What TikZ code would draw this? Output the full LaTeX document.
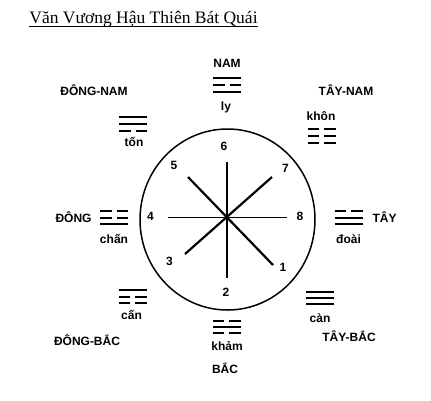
\documentclass[tikz,border=0pt]{standalone}
\usepackage{fontspec}
\setmainfont{Liberation Serif}
\newfontfamily\labfont{Liberation Sans}
\begin{document}
\begin{tikzpicture}[x=1pt,y=-1pt,
  lab/.style={font=\labfont\bfseries\fontsize{12}{14}\selectfont, anchor=base, inner sep=0pt},
  num/.style={font=\labfont\bfseries\fontsize{12}{14}\selectfont, anchor=base, inner sep=0pt},
  tri/.style={line width=2pt},
  axis/.style={line width=1.7pt},
  diag/.style={line width=2.2pt},
  yang/.pic={\draw[tri] (-14,0)--(14,0);},
  yin/.pic={\draw[tri] (-14,0)--(-2.5,0) (2.5,0)--(14,0);}]
\useasboundingbox (0,0) rectangle (431,400);
\fill[white] (0,0) rectangle (431,400);
% title
\node[font=\fontsize{17.5}{20}\selectfont, anchor=base, inner sep=0pt] (title) at (143.5,23.5) {Văn Vương Hậu Thiên Bát Quái};
\draw[line width=0.8pt] (title.base west) ++(0,2.5) coordinate (ul1) (title.base east) ++(0,2.5) coordinate (ul2);
\draw[line width=0.8pt] (ul1) -- (ul2);
% circle
\draw[line width=1.5pt] (227.5,219.5) ellipse [x radius=87.5, y radius=90.5];
% spokes
\coordinate (O) at (227,217.5);
\coordinate (p6) at (227,162);
\coordinate (p2) at (227,278);
\coordinate (p4) at (168,217.5);
\coordinate (p8) at (287,217.5);
\coordinate (p5) at (188,177);
\coordinate (p1) at (273,265);
\coordinate (p7) at (272,177);
\coordinate (p3) at (185,254);
\draw[axis] (p6) -- (p2);
\draw[axis] (p4) -- (p8);
\draw[diag] (p5) -- (p1);
\draw[diag] (p7) -- (p3);
% numbers
\node[num] (n6) at (224,150) {6};
\node[num] (n5) at (174,169) {5};
\node[num] (n7) at (285.5,172.5) {7};
\node[num] (n4) at (150.5,220) {4};
\node[num] (n8) at (300,220) {8};
\node[num] (n3) at (169.5,265) {3};
\node[num] (n1) at (283,271.5) {1};
\node[num] (n2) at (226,296.5) {2};
% directions
\node[lab] (nam) at (227,67) {NAM};
\node[lab] (dn) at (94,95) {ĐÔNG-NAM};
\node[lab] (tn) at (346,95) {TÂY-NAM};
\node[lab] (dong) at (73.5,222) {ĐÔNG};
\node[lab] (tay) at (384.5,222) {TÂY};
\node[lab] (db) at (87,345) {ĐÔNG-BẮC};
\node[lab] (tb) at (349,341.5) {TÂY-BẮC};
\node[lab] (bac) at (225,373) {BẮC};
% trigram names
\node[lab] (ly) at (226,110) {ly};
\node[lab] (khon) at (321,120.5) {khôn};
\node[lab] (ton) at (134,146.5) {tốn};
\node[lab] (chan) at (114,243) {chấn};
\node[lab] (doai) at (348.5,243) {đoài};
\node[lab] (can) at (131.5,319) {cấn};
\node[lab] (cann) at (320,322.5) {càn};
\node[lab] (kham) at (227,350.5) {khảm};
% trigrams
% Ly
\pic at (227,78) {yang}; \pic at (227,85) {yin}; \pic at (227,92) {yang};
% Ton
\pic at (133,117) {yang}; \pic at (133,124) {yang}; \pic at (133,131) {yin};
% Khon
\pic at (321.5,129) {yin}; \pic at (321.5,136) {yin}; \pic at (321.5,143) {yin};
% Chan
\pic at (114,211) {yin}; \pic at (114,217.5) {yin}; \pic at (114,224) {yang};
% Doai
\pic at (348.5,211) {yin}; \pic at (348.5,217.5) {yang}; \pic at (348.5,224) {yang};
% Can (mountain)
\pic at (132.5,290) {yang}; \pic at (132.5,296.5) {yin}; \pic at (132.5,303) {yin};
% Kham
\pic at (226.5,321) {yin}; \pic at (226.5,327) {yang}; \pic at (226.5,333) {yin};
% Can (heaven)
\pic at (320,292) {yang}; \pic at (320,298) {yang}; \pic at (320,304) {yang};
\end{tikzpicture}
\end{document}
